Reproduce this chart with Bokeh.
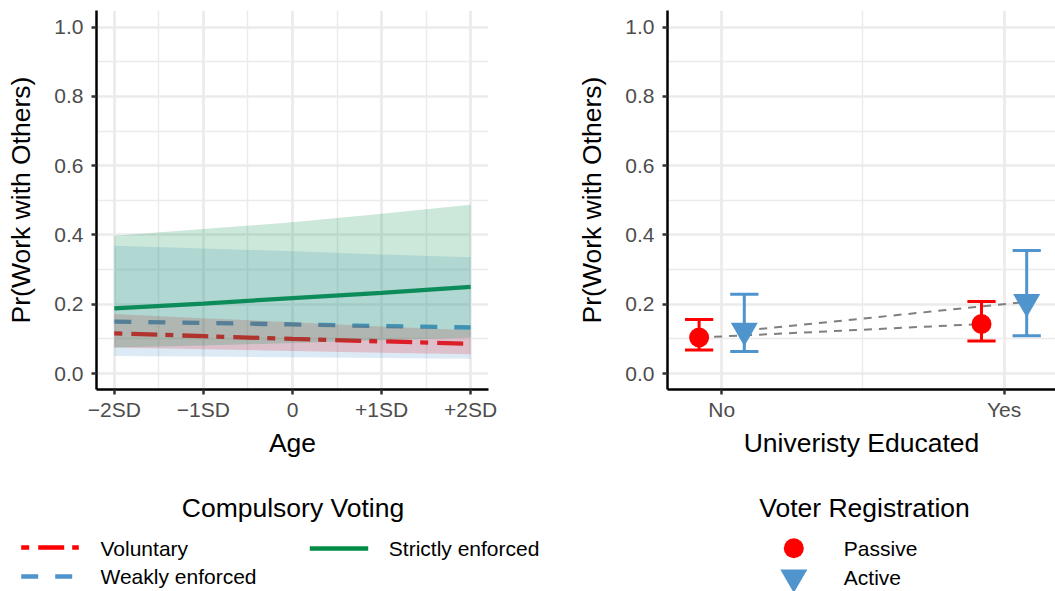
from bokeh.plotting import figure
from bokeh.models import Range1d, FixedTicker, NumeralTickFormatter
from bokeh.layouts import column, row
from bokeh.embed import file_html
from bokeh.resources import INLINE
from bokeh.core.properties import value

FONT = "Liberation Sans"

# ---------------- data: left panel (Age) ----------------
age_pos = [-2, -1, 0, 1, 2]
age_labels = ["\u22122SD", "\u22121SD", "0", "+1SD", "+2SD"]

vol_est = [0.116, 0.108, 0.100, 0.093, 0.086]
vol_lo = [0.075, 0.070, 0.065, 0.060, 0.056]
vol_hi = [0.172, 0.160, 0.148, 0.136, 0.125]

weak_est = [0.150, 0.146, 0.142, 0.137, 0.133]
weak_lo = [0.051, 0.049, 0.047, 0.045, 0.043]
weak_hi = [0.369, 0.361, 0.353, 0.344, 0.336]

strict_est = [0.188, 0.202, 0.218, 0.233, 0.250]
strict_lo = [0.075, 0.081, 0.088, 0.096, 0.104]
strict_hi = [0.398, 0.417, 0.437, 0.461, 0.487]

cv_groups = ["Voluntary", "Weakly enforced", "Strictly enforced"]

# ---------------- data: right panel (University educated) ----------------
edu_levels = ["No", "Yes"]
edu_pos = [1, 2]
passive_est = [0.104, 0.143]
passive_lo = [0.068, 0.094]
passive_hi = [0.156, 0.208]
active_est = [0.124, 0.207]
active_lo = [0.064, 0.109]
active_hi = [0.229, 0.355]
reg_groups = ["Passive", "Active"]

y_ticks = [0.0, 0.2, 0.4, 0.6, 0.8, 1.0]
y_minor = [0.1, 0.3, 0.5, 0.7, 0.9]

# ---------------- styles ----------------
RED = "#FF0000"
BLUE = "#4F94CD"
GREEN = "#008B45"
GRID = "#EBEBEB"
TICK_SIZE = "21px"
TITLE_SIZE = "26.5px"


def style_axes(p):
    for ax in (p.xaxis[0], p.yaxis[0]):
        ax.axis_line_color = "black"
        ax.axis_line_width = 2.5
        ax.major_tick_line_color = "#333333"
        ax.major_tick_line_width = 2.5
        ax.major_tick_in = 0
        ax.major_tick_out = 5
        ax.minor_tick_line_color = None
        ax.major_label_text_font = FONT
        ax.major_label_text_font_size = TICK_SIZE
        ax.major_label_text_color = "#4D4D4D"
        ax.axis_label_text_font = FONT
        ax.axis_label_text_font_size = TITLE_SIZE
        ax.axis_label_text_font_style = "normal"
        ax.axis_label_text_color = "black"
    p.yaxis[0].major_label_standoff = 8
    p.yaxis[0].axis_label_standoff = 15
    p.xaxis[0].major_label_standoff = 3
    p.xaxis[0].axis_label_standoff = 4
    for g in (p.xgrid[0], p.ygrid[0]):
        g.grid_line_color = GRID
        g.grid_line_width = 2.7
        g.minor_grid_line_color = GRID
        g.minor_grid_line_width = 1.4
    p.outline_line_color = None
    p.background_fill_color = "white"
    p.border_fill_color = "white"


# ---------------- left panel ----------------
p1 = figure(width=540, height=462, x_range=Range1d(-2.2, 2.2), y_range=Range1d(-0.046, 1.048),
            output_backend="svg", toolbar_location=None,
            min_border_left=96, min_border_right=52, min_border_top=10, min_border_bottom=73)
p1.xaxis.ticker = FixedTicker(ticks=age_pos, minor_ticks=[-1.5, -0.5, 0.5, 1.5])
p1.xaxis.major_label_overrides = {k: v for k, v in zip(age_pos, age_labels)}
p1.yaxis.ticker = FixedTicker(ticks=y_ticks, minor_ticks=y_minor)
p1.yaxis.formatter = NumeralTickFormatter(format="0.0")
p1.xaxis.axis_label = "Age"
p1.yaxis.axis_label = "Pr(Work with Others)"
style_axes(p1)

series = [
    (vol_est, vol_lo, vol_hi, RED, "8 9 26 8"),
    (weak_est, weak_lo, weak_hi, BLUE, "17 17"),
    (strict_est, strict_lo, strict_hi, GREEN, "solid"),
]
for est, lo, hi, col, dash in series:
    p1.line(age_pos, est, line_color=col, line_width=4.3, line_dash=dash)
for est, lo, hi, col, dash in series:
    p1.varea(x=age_pos, y1=lo, y2=hi, fill_color=col, fill_alpha=0.2)

# ---------------- right panel ----------------
DODGE = 0.08
CAP = 0.05
p2 = figure(width=515, height=462, x_range=Range1d(0.808, 2.182), y_range=Range1d(-0.046, 1.048),
            output_backend="svg", toolbar_location=None,
            min_border_left=127, min_border_right=0, min_border_top=10, min_border_bottom=73)
p2.xaxis.ticker = FixedTicker(ticks=edu_pos, minor_ticks=[1.5])
p2.xaxis.major_label_overrides = {k: v for k, v in zip(edu_pos, edu_levels)}
p2.yaxis.ticker = FixedTicker(ticks=y_ticks, minor_ticks=y_minor)
p2.yaxis.formatter = NumeralTickFormatter(format="0.0")
p2.xaxis.axis_label = "Univeristy Educated"
p2.yaxis.axis_label = "Pr(Work with Others)"
style_axes(p2)

x_pass = [x - DODGE for x in edu_pos]
x_act = [x + DODGE for x in edu_pos]

p2.line(x_pass, passive_est, line_color="#7F7F7F", line_width=2, line_dash="8 7")
p2.line(x_act, active_est, line_color="#7F7F7F", line_width=2, line_dash="8 7")

for xs, lo, hi, col in ((x_pass, passive_lo, passive_hi, RED), (x_act, active_lo, active_hi, BLUE)):
    p2.segment(x0=xs, x1=xs, y0=lo, y1=hi, line_color=col, line_width=3)
    p2.segment(x0=[x - CAP for x in xs], x1=[x + CAP for x in xs], y0=lo, y1=lo, line_color=col, line_width=3)
    p2.segment(x0=[x - CAP for x in xs], x1=[x + CAP for x in xs], y0=hi, y1=hi, line_color=col, line_width=3)

p2.scatter(x_pass, passive_est, marker="circle", size=20, fill_color=RED, line_color=None)
p2.scatter(x_act, active_est, marker="inverted_triangle", size=27, fill_color=BLUE, line_color=None)

# ---------------- legends (drawn in a strip below, page-pixel coordinates) ----------------
pl = figure(width=1055, height=129, x_range=Range1d(0, 1055), y_range=Range1d(591, 462),
            output_backend="svg", toolbar_location=None, min_border=0,
            x_axis_location=None, y_axis_location=None)
pl.xgrid.visible = False
pl.ygrid.visible = False
pl.outline_line_color = None

# titles
pl.text(x=[292.5, 864], y=[507, 507], text=["Compulsory Voting", "Voter Registration"],
        text_font=value(FONT), text_font_size=value(TITLE_SIZE), text_color="black",
        text_align="center", text_baseline="alphabetic")
# compulsory voting keys
key_y = [547, 576, 548]
key_x0 = [20.7, 20.7, 309.3]
key_x1 = [78.3, 78.3, 367.7]
for (est, lo, hi, col, dash), ky, kx0, kx1 in zip(series, key_y, key_x0, key_x1):
    pl.line([kx0, kx1], [ky, ky], line_color=col, line_width=4.3, line_dash=dash)
pl.text(x=[100, 100, 388.3], y=[547.5, 575.5, 547.5], text=cv_groups,
        text_font=value(FONT), text_font_size=value(TICK_SIZE), text_color="black",
        text_align="left", text_baseline="alphabetic")
# voter registration keys
pl.scatter([793.3], [547.7], marker="circle", size=20, fill_color=RED, line_color=None)
pl.scatter([793.3], [576.8], marker="inverted_triangle", size=27, fill_color=BLUE, line_color=None)
pl.text(x=[843.3, 843.3], y=[547.5, 576.5], text=reg_groups,
        text_font=value(FONT), text_font_size=value(TICK_SIZE), text_color="black",
        text_align="left", text_baseline="alphabetic")

layout = column(row(p1, p2), pl)
open("out.html", "w").write(file_html(layout, INLINE))
